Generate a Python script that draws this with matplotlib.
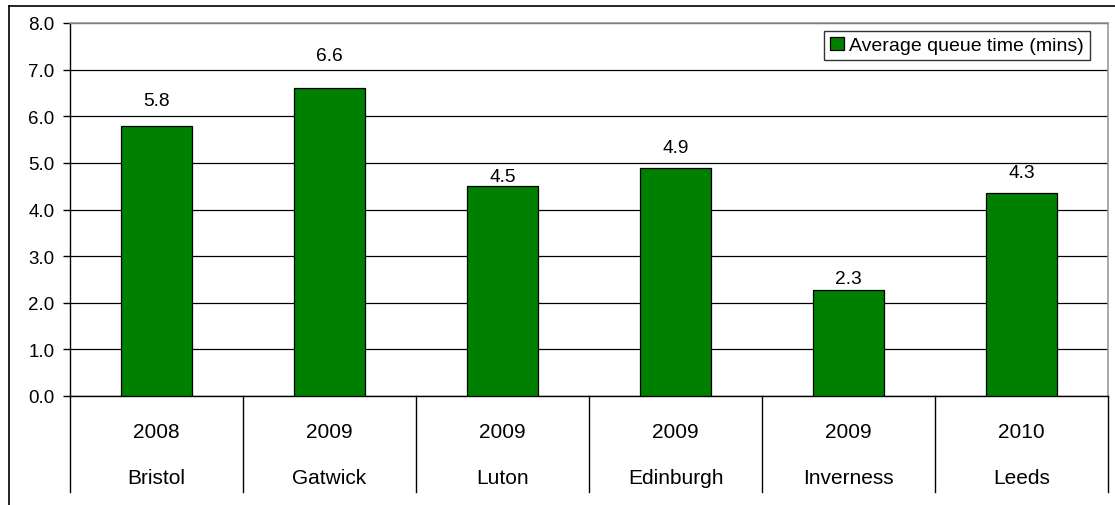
import matplotlib
matplotlib.use('Agg')
import matplotlib.pyplot as plt
import matplotlib.transforms as mtransforms
import numpy as np

plt.rcParams['font.family'] = ['Liberation Sans', 'DejaVu Sans']

# data
years = ['2008', '2009', '2009', '2009', '2009', '2010']
cities = ['Bristol', 'Gatwick', 'Luton', 'Edinburgh', 'Inverness', 'Leeds']
queue_time = [5.8, 6.6, 4.5, 4.9, 2.27, 4.36]
bar_labels = ['5.8', '6.6', '4.5', '4.9', '2.3', '4.3']
# data labels sit at uneven heights in the original (value units)
label_y = [6.33, 7.31, 4.70, 5.34, 2.51, 4.80]
yticks = np.arange(0, 8.01, 1.0)

W, H = 1115, 506
f = plt.figure(figsize=(W / 100, H / 100), dpi=100)
ax = f.add_axes([70 / W, (H - 397) / H, (1108 - 70) / W, (397 - 24) / H])

x = np.arange(len(cities))
bars = ax.bar(x, queue_time, width=0.405, color='#008000', edgecolor='black', linewidth=0.9, zorder=3,
              label='Average queue time (mins)')
for i, lab in enumerate(bar_labels):
    ax.text(x[i], label_y[i], lab, ha='center', va='center', fontsize=13.8, zorder=4)

ax.set_xlim(-0.5, len(cities) - 0.5)
ax.set_ylim(0, 8)
ax.set_yticks(yticks)
ax.set_yticklabels(['%.1f' % v for v in yticks], fontsize=13.5)
ax.tick_params(axis='y', direction='out', length=5, width=1, pad=6)
ax.set_xticks([])
ax.yaxis.grid(True, color='black', linewidth=0.9, zorder=0)

for side in ['top', 'right']:
    ax.spines[side].set_color('#999999')
    ax.spines[side].set_linewidth(1.2)
ax.spines['left'].set_linewidth(1)
ax.spines['bottom'].set_linewidth(1)

# category axis underneath: separators plus two label rows
trans = mtransforms.blended_transform_factory(ax.transData, ax.transAxes)
sep_bottom = -(493 - 397) / (397 - 24)
for s in np.arange(-0.5, len(cities), 1.0):
    ax.plot([s, s], [0, sep_bottom], transform=trans, color='black', linewidth=1, clip_on=False)
for i in x:
    ax.text(i, -(433 - 397) / (397 - 24), years[i], transform=trans, ha='center', va='center', fontsize=15)
    ax.text(i, -(479 - 397) / (397 - 24), cities[i], transform=trans, ha='center', va='center', fontsize=15)

leg = ax.legend(loc='upper right', fontsize=14, frameon=True,
                fancybox=False, handlelength=0.7, handleheight=0.7, handletextpad=0.3,
                borderpad=0.3, borderaxespad=0)
leg.set_bbox_to_anchor(((1090 - 70) / (1108 - 70), (397 - 32) / (397 - 24)), transform=ax.transAxes)
leg.get_frame().set_edgecolor('black')
leg.get_frame().set_linewidth(1)

# outer frame of the chart area
f.add_artist(plt.Line2D([9 / W, 9 / W], [0, 1 - 7 / H], color='black', linewidth=1.2))
f.add_artist(plt.Line2D([9 / W, 1], [1 - 7 / H, 1 - 7 / H], color='black', linewidth=1.2))

f.savefig('out.png', dpi=100)
